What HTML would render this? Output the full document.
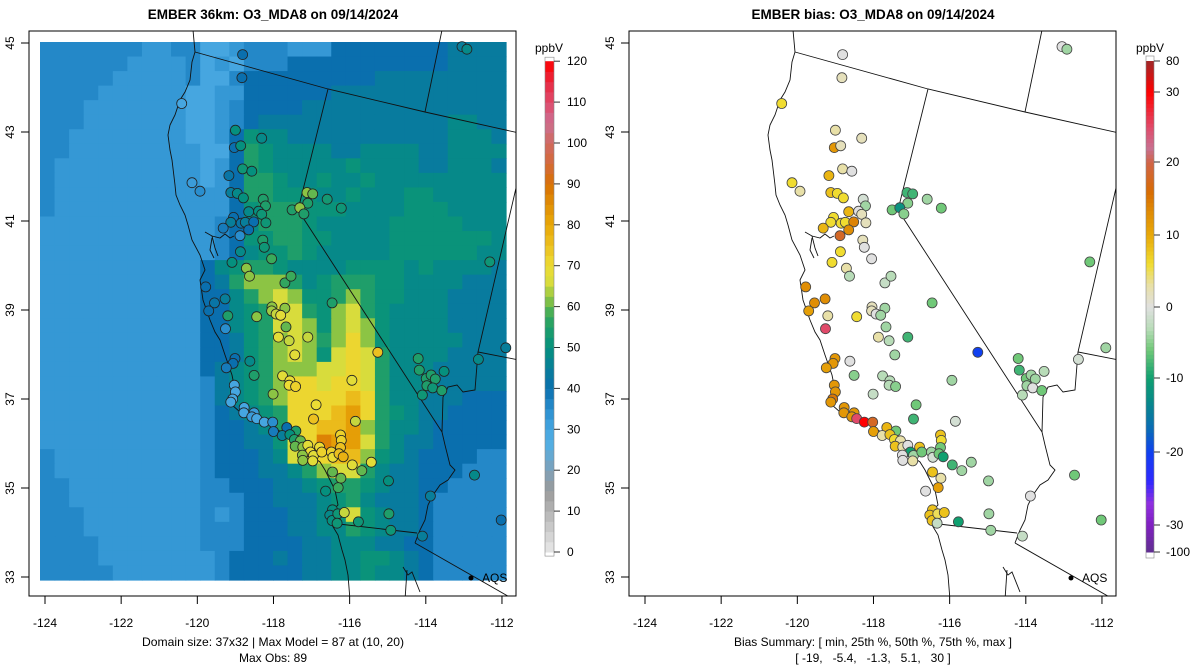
<!DOCTYPE html>
<html><head><meta charset="utf-8"><style>
html,body{margin:0;padding:0;background:#fff;overflow:hidden;}
svg{display:block;font-family:"Liberation Sans",Arial,sans-serif;}
</style></head><body>
<svg id="chart" width="1200" height="672" viewBox="0 0 1200 672" xmlns="http://www.w3.org/2000/svg">
<defs>
<clipPath id="clipL"><rect x="29" y="31" width="487" height="565"/></clipPath>
<clipPath id="clipR"><rect x="629" y="31" width="487" height="565"/></clipPath>
</defs>
<g id="left"></g>
<g id="right"></g>
<text x="273" y="19" text-anchor="middle" font-size="13.5" font-weight="bold">EMBER 36km: O3_MDA8 on 09/14/2024</text>
<text x="873" y="19" text-anchor="middle" font-size="13.5" font-weight="bold">EMBER bias: O3_MDA8 on 09/14/2024</text>
<text x="273" y="646" text-anchor="middle" font-size="12" textLength="262" lengthAdjust="spacingAndGlyphs">Domain size: 37x32 | Max Model = 87 at (10, 20)</text>
<text x="273" y="662" text-anchor="middle" font-size="12">Max Obs: 89</text>
<text x="873" y="646" text-anchor="middle" font-size="12" textLength="278" lengthAdjust="spacingAndGlyphs">Bias Summary: [ min, 25th %, 50th %, 75th %, max ]</text>
<text x="873" y="662" text-anchor="middle" font-size="12" xml:space="preserve">[ -19,   -5.4,   -1.3,   5.1,   30 ]</text>
</svg>
<script>
// ---- data ----
const gridRows = [
"cccccccbbccaabcccbbbddddddddeeee",
"ccccccbbbbcabacccdddddddddddeeee",
"cccccbbbbbcaacdddddddddeeeeeeeee",
"ccccbbbbbbaabbddddddeeeeeeeeeeee",
"cccbbbbbbbaabcddddeeeeeeeeeeeeee",
"cccbbbbbbbaabcdeeeeeeeeeeeeeffee",
"ccbbbbbbbbaabdgffeeeeeeeeeeefffe",
"ccbbbbbbbbbaadhgffffeeffffeeffff",
"cbbbbbbbbbbabdhgfffffgffffeefffe",
"cbbbbbbbbbbabdhhgffgffgfffffffff",
"cbbbbbbbbbbbbdhhgggffgfffggfffff",
"cbbbbbbbbbbbbdghhhgggffffgggffff",
"bbbbbbbbbbbbcdfhhhgfffffgggggfff",
"bbbbbbbbbbbbcdgghhggffffgggggggf",
"bbbbbbbbbbbbcdfgghgfffffggggggff",
"bbbbbbbbbbbdfghhgffffggggfgffffe",
"bbbbbbbbbbbdehiiihfghhhggffffeee",
"bbbbbbbbbbbddfhijigghihggfffeeee",
"bbbbbbbbbbbddfghjjhgijhgffffeeee",
"bbbbbbbbbbbddfghjjigijigffffeeee",
"bbbbbbbbbbbddeghijihikigfffffeee",
"bbbbbbbbbbbddeghijigjkjhffffeeee",
"bbbbbbbbbbbdefghiiijjkjhfffeeeee",
"bbbbbbbbbbbcefghikkjkkjhfffeeeee",
"bbbbbbbbbbbcefghikkkklkhffeeeddd",
"bbbbbbbbbbbcdefghkkklmkhgfeedddd",
"bbbbbbbbbbbcddefhkkllmihffeddddd",
"bbbbbbbbbbbcddeegjknmmjhfeeddddd",
"cbbbbbbbbbbcdddefjkklligfeddddcc",
"cbbbbbbbbbbcdddeefhijjhfeedddccc",
"ccbbbbbbbbbccdddeefghhgfeeddcccc",
"ccbbbbbbbbbcccddeeefghfeeedccccc",
"cccbbbbbbbbcbcdddeefgjgfeedccccc",
"cccbbbbbbbbcccdddeeffhgfeedccccc",
"ccccbbbbbbbcccddddeefffeeddccccc",
"ccccbbbbbbbbcdddedeeffggfedccccc",
"cccccbbbbbbbcdddddeeffgffedccccc"
];
const levelCodes = "abcdefghijklmn";
const levelValues = [30,33,36,40,44,48,51,55,62,66,71,76,82,87];

const siteLon = [-118.81,-118.83,-120.41,-113.05,-112.92,-119.00,-118.31,-119.03,-118.86,-118.81,-118.57,-119.17,-120.14,-119.93,-119.12,-118.95,-118.79,-118.27,-118.21,-117.12,-116.97,-117.10,-116.59,-116.22,-117.51,-117.31,-117.20,-118.65,-118.39,-118.31,-119.05,-119.12,-118.85,-118.74,-118.52,-118.20,-119.32,-118.65,-118.88,-118.28,-118.24,-118.87,-119.09,-118.05,-118.71,-118.63,-117.70,-117.54,-112.32,-119.78,-119.27,-119.55,-119.70,-116.46,-119.20,-118.44,-118.04,-118.05,-117.70,-117.93,-117.81,-119.26,-117.67,-117.87,-117.59,-117.10,-117.44,-115.26,-119.01,-119.06,-119.24,-118.62,-118.51,-117.76,-117.57,-117.59,-117.42,-115.94,-118.01,-119.03,-119.00,-119.07,-119.12,-114.20,-114.17,-113.52,-113.99,-113.86,-113.75,-113.97,-113.82,-113.58,-114.09,-112.62,-111.90,-116.88,-116.95,-115.85,-118.77,-118.78,-118.51,-118.57,-118.44,-118.24,-118.02,-118.00,-117.65,-117.41,-117.77,-117.57,-117.45,-117.29,-117.43,-117.23,-117.10,-117.03,-116.79,-117.24,-116.95,-117.23,-116.97,-116.73,-116.48,-116.44,-116.24,-116.22,-116.24,-116.28,-116.17,-115.93,-115.68,-115.43,-116.45,-116.23,-116.30,-114.98,-116.63,-113.88,-112.72,-116.45,-116.52,-116.46,-116.31,-116.14,-116.33,-115.77,-114.97,-114.92,-114.09,-112.02];
const siteLat = [44.74,44.22,43.64,44.92,44.86,43.04,42.86,42.65,42.69,42.17,42.12,42.02,41.86,41.67,41.64,41.62,41.52,41.49,41.34,41.64,41.61,41.40,41.49,41.29,41.25,41.30,41.16,41.21,41.22,41.15,41.08,40.97,40.95,40.97,40.98,40.96,40.84,40.80,40.67,40.57,40.41,40.31,40.07,40.15,39.94,39.76,39.61,39.76,40.08,39.52,39.25,39.16,38.98,39.16,38.87,38.85,39.07,38.98,39.04,38.91,38.88,38.58,38.62,38.39,38.31,38.39,37.99,38.05,37.91,37.80,37.70,37.85,37.53,37.52,37.41,37.31,37.28,37.42,37.11,37.31,37.16,37.00,36.93,37.91,37.65,37.62,37.46,37.54,37.45,37.30,37.25,37.19,37.09,37.89,38.15,36.87,36.55,36.50,36.81,36.69,36.69,36.60,36.56,36.48,36.48,36.27,36.36,36.28,36.18,36.20,36.09,36.06,35.94,35.92,35.96,35.81,35.92,35.74,35.73,35.62,35.61,35.81,35.81,35.69,36.19,36.07,35.91,35.77,35.70,35.52,35.39,35.58,35.36,35.22,35.01,35.16,34.93,34.82,35.29,34.51,34.39,34.27,34.42,34.45,34.21,34.24,34.42,34.05,33.92,34.28];
const siteObs = [40,40,30,45,48,50,48,40,50,52,50,42,32,35,45,48,50,55,55,62,60,55,53,52,55,62,55,48,50,52,40,45,42,45,40,52,38,40,35,55,52,48,50,58,62,62,57,58,52,40,45,42,40,55,55,62,62,63,62,65,68,35,60,68,65,65,68,75,40,40,38,48,55,68,70,70,72,68,62,30,30,30,30,55,55,50,55,55,55,55,52,55,52,48,45,70,75,65,30,30,32,32,30,30,35,38,40,55,45,50,55,60,60,62,68,70,70,62,68,62,68,72,72,70,72,72,75,75,78,68,60,68,60,60,58,50,50,45,48,50,48,50,52,65,52,52,55,52,45,40];
const siteBias = [0,2,6,0,-4,3,2,12,2,3,0,9,6,3,8,6,6,-1,-4,-8,-8,-5,-4,-6,-6,-12,-5,9,0,2,6,6,6,6,14,2,9,13,18,2,0,6,6,0,3,-3,-2,-3,-6,13,13,13,11,-6,3,6,2,2,-4,0,-4,25,-4,3,-3,-8,-4,-20,12,12,11,0,-5,-3,-3,-3,-5,-4,-2,12,12,15,12,-6,-8,-3,-6,-4,-4,-4,0,-6,-3,-1,-4,-6,-8,-1,12,12,12,12,25,30,18,11,9,-6,3,8,6,3,8,3,0,-10,8,0,-4,0,3,-6,-4,-1,8,6,-6,-6,-10,-8,-4,-4,8,3,11,-4,0,0,-6,8,8,8,5,8,-2,-10,-4,-4,-2,-6];

const obsTicks = [0,10,20,30,40,50,60,70,80,90,100,110,120];
const biasTicks = [-100,-30,-20,-10,0,10,20,30,80];
const lonTicks = [-124,-122,-120,-118,-116,-114,-112];
const latTicks = [45,43,41,39,37,35,33];

// ---- scales / colours ----
const NS='http://www.w3.org/2000/svg';
function xOf(lon,off){return off+45+(lon+124)*38.08;}
function yOf(lat){return 43+(45-lat)*44.5;}
function hex(h){return [parseInt(h.substr(1,2),16),parseInt(h.substr(3,2),16),parseInt(h.substr(5,2),16)];}
function interp(stops,v){
  if(v<=stops[0][0])return stops[0][1];
  for(let i=1;i<stops.length;i++){
    if(v<=stops[i][0]){const a=stops[i-1],b=stops[i];const t=(v-a[0])/(b[0]-a[0]);
      const ca=hex(a[1]),cb=hex(b[1]);return 'rgb('+ca.map((c,k)=>Math.round(c+(cb[k]-c)*t)).join(',')+')';}
  }
  return stops[stops.length-1][1];
}
const obsStops=[[0,'#e8e8e8'],[10,'#b4b4b4'],[15,'#9a9a9a'],[20,'#7fa0b8'],[26,'#55aee2'],[30,'#46a6e0'],[35,'#2a8ece'],[40,'#0a6fae'],[45,'#087e9a'],[50,'#05907e'],[55,'#1f9e6a'],[58,'#3aaa5a'],[62,'#8cc444'],[66,'#d8dc3c'],[70,'#ecdc34'],[75,'#ecc020'],[80,'#e8a808'],[85,'#e08e05'],[90,'#d87004'],[95,'#d46a3a'],[100,'#d06a60'],[105,'#cc6e90'],[110,'#e04a6a'],[115,'#e82840'],[120,'#ff0000']];
const biasStops=[[-100,'#603090'],[-30,'#8020c0'],[-27,'#9030e0'],[-24,'#3028ff'],[-20,'#1040f0'],[-17,'#0a6ab8'],[-13,'#088a88'],[-10,'#10a070'],[-6,'#70c878'],[-3,'#b8dcb8'],[0,'#e0e0e0'],[3,'#e8e0a8'],[6,'#f0dc30'],[10,'#e8a808'],[13,'#e08e05'],[16,'#d86c04'],[20,'#d06448'],[22,'#c87090'],[25,'#e04a6a'],[30,'#ff0000'],[80,'#a02828']];
const biasTickY=[552,525,452,378,307,235,162,92,61];
function biasY(v){for(let i=1;i<biasTicks.length;i++){if(v<=biasTicks[i]){const t=(v-biasTicks[i-1])/(biasTicks[i]-biasTicks[i-1]);return biasTickY[i-1]+(biasTickY[i]-biasTickY[i-1])*t;}}return 61;}
function obsY(v){return 552-v*4.09;}

function mk(tag,attrs,parent){const e=document.createElementNS(NS,tag);for(const k in attrs)e.setAttribute(k,attrs[k]);parent.appendChild(e);return e;}

const coast="193,30 195,52 192,62 190,80 185,92 180,100 175,115 170,125 168,135 170,150 172,160 175,185 176,195 180,205 185,215 188,225 192,240 200,255 205,270 200,280 203,300 210,320 215,332 220,340 225,355 232,375 235,390 232,405 240,412 260,420 275,428 290,438 300,446 310,455 320,462 325,470 330,480 335,490 338,505 328,515 332,525 338,535 342,550 345,560 348,575 350,600";
const borders=["195,52 328,89 425,112 519,133","442,30 425,112","328,89 298,210 442,432","519,175 478,352 519,360","478,352 475,390 463,392 457,385 448,387 443,397 442,432","442,432 445,445 450,465 455,470 448,480 440,485 433,495 428,505 425,520 420,530 415,543","330,523 417,533","415,543 520,603","403,567 408,575 412,572 420,592","407,570 405,600","205,232 212,236 220,238 225,234 230,238 234,236","212,238 210,250 214,258","212,236 215,248 218,256"];

function basemap(g,off,clip){
  const bg=mk('g',{'clip-path':'url(#'+clip+')',fill:'none',stroke:'#111','stroke-width':'0.9'},g);
  
  
  const c=mk('polyline',{points:coast,transform:'translate('+off+',0)'},bg);
  
  
  borders.forEach(p=>{const b=mk('polyline',{points:p,transform:'translate('+off+',0)'},bg);
    
    });
}
function axes(g,off){
  const fr=mk('rect',{x:29+off,y:31,width:487,height:565,fill:'none',stroke:'#000','stroke-width':1},g);
  
  
  lonTicks.forEach(l=>{const x=xOf(l,off);
    mk('line',{x1:x,y1:596,x2:x,y2:604,stroke:'#000'},g);
    const t=mk('text',{x:x,y:627,'text-anchor':'middle','font-size':12},g);t.textContent=l;
    
    });
  latTicks.forEach(l=>{const y=yOf(l);
    mk('line',{x1:29+off,y1:y,x2:21+off,y2:y,stroke:'#000'},g);
    const t=mk('text',{x:14+off,y:y,'text-anchor':'middle','font-size':12,transform:'rotate(-90 '+(14+off)+' '+y+')'},g);t.textContent=l;
    
    });
  mk('circle',{cx:471+off,cy:578,r:2.5,fill:'#000'},g);
  const a=mk('text',{x:482+off,y:582,'font-size':12},g);a.textContent='AQS';
  
  
}

// ---- left panel ----
const L=document.getElementById('left');
const cw=466/32, ch=538/37;
const gridG=mk('g',{},L);


gridRows.forEach((row,r)=>{for(let c=0;c<32;c++){const code=row[Math.min(c,row.length-1)];
  const v=levelValues[levelCodes.indexOf(code)];
  const cell=mk('rect',{x:(40+c*cw).toFixed(2),y:(42+r*ch).toFixed(2),width:(cw+0.6).toFixed(2),height:(ch+0.6).toFixed(2),fill:interp(obsStops,v)},gridG);
  
  }});
basemap(L,0,'clipL');
const sl=mk('g',{'clip-path':'url(#clipL)'},L);
siteLon.forEach((lon,i)=>{const c=mk('circle',{cx:xOf(lon,0).toFixed(1),cy:yOf(siteLat[i]).toFixed(1),r:5,fill:interp(obsStops,siteObs[i]),stroke:'#222','stroke-width':0.8},sl);
  
  });
axes(L,0);
// left colorbar
for(let v=0;v<120;v+=2.5){mk('rect',{x:545,y:obsY(v+2.5).toFixed(2),width:9,height:(2.5*4.09+0.5).toFixed(2),fill:interp(obsStops,v+1.25)},L);}
mk('rect',{x:545,y:(obsY(120)-4).toFixed(2),width:9,height:(obsY(-1)-obsY(120)+4).toFixed(2),fill:'none',stroke:'#888','stroke-width':0.6},L);
obsTicks.forEach(v=>{const y=obsY(v);mk('line',{x1:554,y1:y,x2:560,y2:y,stroke:'#333'},L);
  const t=mk('text',{x:567,y:y+4,'font-size':12},L);t.textContent=v;
  
  });
const u1=mk('text',{x:549,y:52,'text-anchor':'middle','font-size':12},L);u1.textContent='ppbV';



// ---- right panel ----
const R=document.getElementById('right');
basemap(R,600,'clipR');
const sr=mk('g',{'clip-path':'url(#clipR)'},R);
siteLon.forEach((lon,i)=>{const c=mk('circle',{cx:xOf(lon,600).toFixed(1),cy:yOf(siteLat[i]).toFixed(1),r:5,fill:interp(biasStops,siteBias[i]),stroke:'#444','stroke-width':0.8},sr);
  
  });
axes(R,600);
for(let i=1;i<biasTicks.length;i++){const a=biasTicks[i-1],b=biasTicks[i];const n=Math.max(4,Math.round((biasTickY[i-1]-biasTickY[i])/4));
  for(let k=0;k<n;k++){const v0=a+(b-a)*k/n,v1=a+(b-a)*(k+1)/n;const y0=biasY(v0),y1=biasY(v1);
    mk('rect',{x:1146,y:y1.toFixed(2),width:8,height:(y0-y1+0.5).toFixed(2),fill:interp(biasStops,(v0+v1)/2)},R);}}
mk('rect',{x:1146,y:56,width:8,height:502,fill:'none',stroke:'#888','stroke-width':0.6},R);
biasTicks.forEach((v,i)=>{const y=biasTickY[i];mk('line',{x1:1154,y1:y,x2:1160,y2:y,stroke:'#333'},R);
  const t=mk('text',{x:1166,y:y+4,'font-size':12},R);t.textContent=v;
  
  });
const u2=mk('text',{x:1150,y:52,'text-anchor':'middle','font-size':12},R);u2.textContent='ppbV';


</script>
</body></html>
